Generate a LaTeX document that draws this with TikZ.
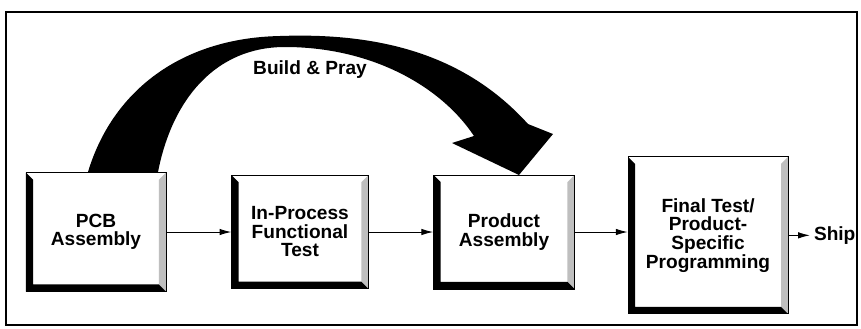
\documentclass[tikz,border=0pt]{standalone}
\usepackage{fontspec}
\setmainfont{Liberation Sans}
\usepackage{tikz}
\usetikzlibrary{arrows.meta,calc}

\begin{document}
\begin{tikzpicture}[x=0.03cm, y=-0.03cm,
    stage/.style={draw, fill=white, line width=0.6pt, align=center, inner sep=0pt,
      font=\fontsize{16.3}{15.8}\selectfont\bfseries,
      path picture={
        \fill[gray!50] (path picture bounding box.north east) -- (path picture bounding box.south east)
          -- ++(-6pt,6pt) -- ($(path picture bounding box.north east)+(-6pt,-6pt)$) -- cycle;
        \fill[black] (path picture bounding box.north west) -- (path picture bounding box.south west)
          -- (path picture bounding box.south east) -- ++(-6pt,6pt)
          -- ($(path picture bounding box.south west)+(6pt,6pt)$)
          -- ($(path picture bounding box.north west)+(6pt,-6pt)$) -- cycle;
      }},
    word/.style={font=\fontsize{16.3}{15.8}\selectfont\bfseries},
    flow/.style={-{Latex[length=10pt,width=5.5pt]}, line width=0.8pt}]
        \useasboundingbox (0,0) rectangle (861,328);
        \draw[line width=1pt] (6,12) rectangle (857,325);
        \node [stage, minimum width=4.2cm, minimum height=3.57cm] (1) at (96,232) {PCB\\Assembly};
        \node [stage, minimum width=4.1cm, minimum height=3.4cm, right of=1, xshift=5.12cm] (2) {In-Process\\Functional\\Test};
        \node [stage, minimum width=4.23cm, minimum height=3.42cm, right of=2, xshift=5.12cm] (3) {Product\\Assembly};
        \node [stage, minimum width=4.8cm, minimum height=4.71cm, right of=3, xshift=5.12cm, yshift=-0.1cm] (4) {Final Test/\\Product-\\Specific\\Programming};
        \node [word, right of=4, xshift=2.8cm] (5) {Ship};
        \node [word] (6) at (310,70) {Build \& Pray};
        \draw[flow] (1.east) -- (1.east -| 2.west);
        \draw[flow] (2.east) -- (2.east -| 3.west);
        \draw[flow] (3.east) -- (3.east -| 4.west);
        \draw[flow] (4.east) -- (5);
        % build & pray
        \fill (88,172) .. controls (112,92) and (180,38) .. (280,36)
          .. controls (390,32) and (470,60) .. (528,124)
          -- (553,134) -- (519,175) -- (452,143) -- (474,136)
          .. controls (440,85) and (370,47) .. (285,47)
          .. controls (215,47) and (172,100) .. (158,172) -- cycle;
      \end{tikzpicture}
\end{document}
